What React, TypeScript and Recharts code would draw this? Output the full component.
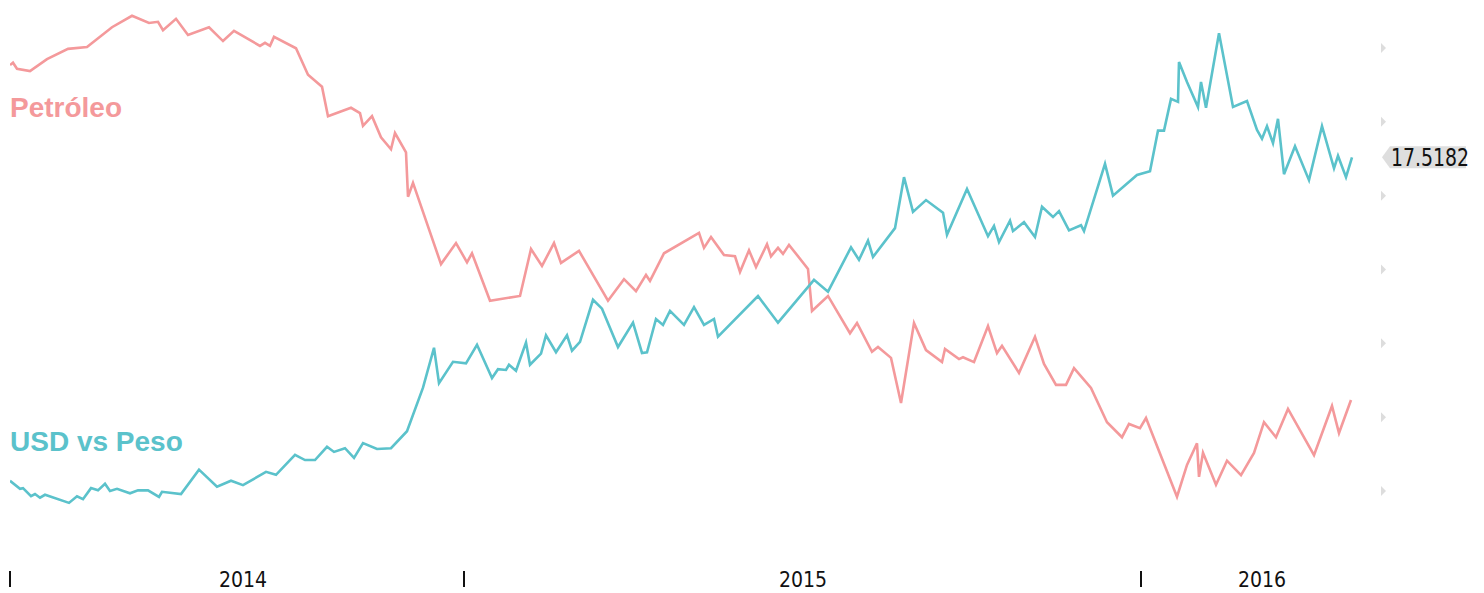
import { LineChart, Line, XAxis, YAxis, ReferenceDot } from "recharts";

// eje x: días de cotización desde el inicio de la serie
const petroleoDias = [
  0, 3, 7, 20, 37, 58, 77, 102, 122, 139, 148, 153, 166, 178, 199, 213, 224, 250, 255, 260,
  264, 286, 298, 312, 318, 341, 350, 353, 362, 371, 381, 385, 396, 398, 403, 431, 446, 457,
  462, 480, 510, 521, 532, 544, 551, 569, 598, 614, 626, 636, 640, 654, 689, 694, 701, 714,
  725, 730, 739, 746, 757, 761, 768, 773, 779, 798, 802, 818, 840, 847, 862, 868, 881, 891,
  904, 916, 932, 935, 949, 953, 964, 978, 987, 992, 1009, 1025, 1034, 1046, 1056, 1064,
  1081, 1097, 1112, 1119, 1130, 1136, 1167, 1177, 1187, 1189, 1193, 1206, 1217, 1231, 1244,
  1254, 1266, 1278, 1304, 1322, 1329, 1341,
];
const petroleoValores = [
  92.0, 92.4, 91.4, 91.0, 93.0, 94.7, 95.0, 98.3, 100.2, 99.0, 99.2, 97.8, 99.7, 97.0, 98.3,
  96.0, 97.7, 95.2, 95.7, 95.2, 96.7, 94.8, 90.4, 88.4, 83.5, 84.9, 84.0, 81.9, 83.5, 80.0,
  78.0, 80.7, 77.5, 70.1, 72.4, 58.9, 62.4, 59.2, 60.7, 52.8, 53.6, 61.4, 58.6, 62.4, 59.1,
  61.1, 52.8, 56.4, 54.4, 57.1, 56.1, 60.7, 64.1, 61.6, 63.4, 60.4, 60.2, 57.6, 61.2, 58.4,
  62.2, 60.2, 61.6, 60.6, 62.1, 58.1, 51.1, 53.6, 47.4, 49.1, 44.3, 45.1, 43.3, 35.8, 49.1,
  44.6, 42.6, 44.8, 43.1, 43.4, 42.6, 48.6, 44.1, 45.3, 40.8, 46.8, 42.3, 38.8, 38.8, 41.6,
  38.3, 32.6, 30.1, 32.3, 31.6, 33.3, 20.2, 25.5, 29.1, 23.5, 27.5, 22.2, 26.2, 23.8, 27.5,
  32.6, 30.1, 34.8, 27.1, 35.3, 30.8, 36.3,
];

const usdDias = [
  0, 10, 13, 21, 25, 30, 35, 59, 67, 73, 81, 88, 95, 100, 107, 120, 128, 138, 149, 152, 171,
  189, 207, 221, 233, 256, 266, 285, 295, 305, 317, 324, 335, 344, 353, 367, 381, 397, 413,
  424, 429, 443, 456, 467, 482, 488, 496, 499, 506, 516, 520, 531, 536, 546, 557, 562, 570,
  583, 592, 608, 623, 632, 637, 646, 653, 660, 674, 684, 694, 704, 708, 748, 768, 804, 818,
  841, 849, 858, 863, 885, 894, 903, 916, 933, 937, 957, 978, 984, 989, 1000, 1003, 1014,
  1025, 1032, 1043, 1049, 1059, 1071, 1074, 1095, 1103, 1127, 1140, 1148, 1154, 1161, 1168,
  1169, 1177, 1188, 1191, 1196, 1209, 1223, 1237, 1247, 1252, 1257, 1263, 1268, 1274, 1285,
  1299, 1312, 1324, 1328, 1336, 1342,
];
const usdValores = [
  13.14, 13.03, 13.04, 12.93, 12.96, 12.91, 12.95, 12.84, 12.93, 12.89, 13.04, 13.01, 13.1,
  13.0, 13.03, 12.97, 13.01, 13.01, 12.92, 12.99, 12.96, 13.29, 13.06, 13.14, 13.08, 13.26,
  13.22, 13.49, 13.42, 13.42, 13.6, 13.53, 13.58, 13.45, 13.65, 13.57, 13.58, 13.81, 14.4,
  14.94, 14.46, 14.75, 14.73, 14.98, 14.53, 14.65, 14.64, 14.71, 14.63, 15.01, 14.71, 14.86,
  15.11, 14.88, 15.11, 14.9, 15.02, 15.59, 15.47, 14.95, 15.28, 14.87, 14.88, 15.33, 15.25,
  15.44, 15.25, 15.49, 15.25, 15.33, 15.09, 15.64, 15.28, 15.86, 15.7, 16.3, 16.13, 16.39,
  16.17, 16.56, 17.25, 16.78, 16.94, 16.77, 16.47, 17.09, 16.45, 16.59, 16.37, 16.66, 16.52,
  16.64, 16.44, 16.85, 16.71, 16.79, 16.53, 16.6, 16.52, 17.43, 17.0, 17.28, 17.33, 17.88,
  17.88, 18.31, 18.27, 18.81, 18.54, 18.2, 18.54, 18.19, 19.2, 18.2, 18.28, 17.89, 17.77,
  17.94, 17.71, 18.04, 17.29, 17.67, 17.21, 17.94, 17.37, 17.54, 17.25, 17.5182,
];

const limitesAnio = [0, 454, 1131];
const posicionAnio = [233, 793, 1252];
const etiquetasAnio = ["2014", "2015", "2016"];
const ticksUsd = [13, 14, 15, 16, 17, 18, 19];

const petroleo = petroleoDias.map((t, i) => ({ t, v: petroleoValores[i] }));
const usd = usdDias.map((t, i) => ({ t, v: usdValores[i] }));
const ultimoUsd = usdValores[usdValores.length - 1];

const ROSA = "#f4999b";
const TURQUESA = "#5bc2cb";
const FUENTE = "'DejaVu Sans Condensed', 'DejaVu Sans', sans-serif";

function TickAnio(props: any) {
  const { x, y, payload } = props;
  const idx = posicionAnio.indexOf(payload.value);
  if (idx >= 0) {
    return (
      <text x={x} y={y + 59} textAnchor="middle" fontFamily={FUENTE} fontStretch="condensed" fontSize={21} fill="#111">
        {etiquetasAnio[idx]}
      </text>
    );
  }
  return <line x1={x} x2={x} y1={y + 43} y2={y + 59} stroke="#111" strokeWidth={2} />;
}

function TickUsd(props: any) {
  const { x, y } = props;
  return <polygon points={`${x - 3},${y - 5} ${x + 2},${y} ${x - 3},${y + 5}`} fill="#dddddd" />;
}

function EtiquetaUltimo(props: any) {
  const { cx, cy } = props;
  const x = cx - 2;
  return (
    <g>
      <polygon
        points={`${x},${cy} ${x + 8},${cy - 11} ${x + 84},${cy - 11} ${x + 84},${cy + 11} ${x + 8},${cy + 11}`}
        fill="#dedede"
      />
      <g transform={`translate(${x + 9}, ${cy + 9}) scale(1, 1.18)`}>
        <text x={0} y={0} fontFamily={FUENTE} fontStretch="condensed" fontSize={21} fill="#111">
          {ultimoUsd.toFixed(4)}
        </text>
      </g>
    </g>
  );
}

export default function App() {
  return (
    <div style={{ position: "absolute", left: 0, top: 0, width: 1484, height: 593, background: "#fff" }}>
      <LineChart width={1484} height={593} margin={{ top: 11, right: 0, bottom: 0, left: 10 }}>
        <XAxis
          xAxisId="t"
          dataKey="t"
          type="number"
          domain={[0, 1374]}
          allowDataOverflow
          ticks={[...limitesAnio, ...posicionAnio]}
          interval={0}
          height={65}
          axisLine={false}
          tickLine={false}
          tickSize={0}
          tickMargin={0}
          tick={<TickAnio />}
        />
        <YAxis yAxisId="oil" hide domain={[15, 101]} allowDataOverflow />
        <YAxis
          yAxisId="usd"
          orientation="right"
          width={100}
          domain={[12.5, 19.5]}
          ticks={ticksUsd}
          interval={0}
          axisLine={false}
          tickLine={false}
          tickSize={0}
          tickMargin={0}
          tick={<TickUsd />}
        />
        <Line
          xAxisId="t"
          yAxisId="oil"
          data={petroleo}
          dataKey="v"
          stroke={ROSA}
          strokeWidth={2.6}
          dot={false}
          isAnimationActive={false}
        />
        <Line
          xAxisId="t"
          yAxisId="usd"
          data={usd}
          dataKey="v"
          stroke={TURQUESA}
          strokeWidth={2.6}
          dot={false}
          isAnimationActive={false}
        />
        <ReferenceDot
          xAxisId="t"
          yAxisId="usd"
          x={1374}
          y={ultimoUsd}
          r={0}
          shape={<EtiquetaUltimo />}
        />
      </LineChart>
      <svg
        width={1484}
        height={593}
        style={{ position: "absolute", left: 0, top: 0, pointerEvents: "none" }}
      >
        <text x={10} y={117} fontFamily="'Liberation Sans', Arial, sans-serif" fontWeight="bold" fontSize={28} fill={ROSA}>
          Petróleo
        </text>
        <text x={10} y={451} fontFamily="'Liberation Sans', Arial, sans-serif" fontWeight="bold" fontSize={28} fill={TURQUESA}>
          USD vs Peso
        </text>
      </svg>
    </div>
  );
}
